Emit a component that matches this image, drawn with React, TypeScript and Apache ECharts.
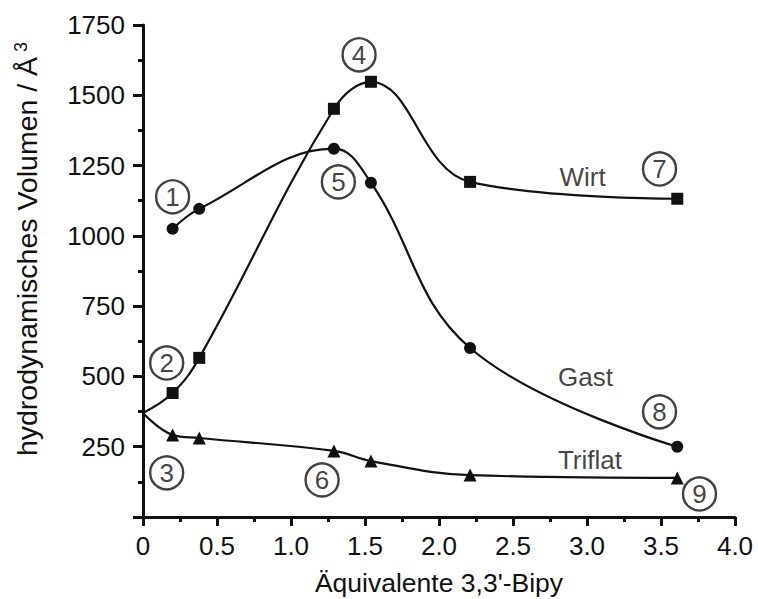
import React, { useEffect, useRef } from "react";
import * as echarts from "echarts";

// x values (Äquivalente 3,3'-Bipy) and series values (Å³)
const xWirt = [0, 0.2, 0.38, 1.29, 1.54, 2.21, 3.61];
const yWirt = [370, 441, 566, 1452, 1548, 1192, 1132];
const xGast = [0.2, 0.38, 1.29, 1.54, 2.21, 3.61];
const yGast = [1025, 1096, 1310, 1189, 601, 250];
const xTriflat = [0, 0.2, 0.38, 1.29, 1.54, 2.21, 3.61];
const yTriflat = [370, 292, 281, 235, 199, 149, 139];

// circled annotation numbers, anchored in data units
const annNums = ["1", "2", "3", "4", "5", "6", "7", "8", "9"];
const annX = [0.2, 0.16, 0.16, 1.46, 1.32, 1.21, 3.49, 3.49, 3.76];
const annY = [1139, 548, 157, 1644, 1192, 132, 1238, 374, 82];

// series name labels, anchored in data units
const seriesNames = ["Wirt", "Gast", "Triflat"];
const nameX = [2.97, 2.99, 3.02];
const nameY = [1210, 498, 203];

const FONT = "'Liberation Sans', Arial, sans-serif";

function pairs(xs: number[], ys: number[], skipFirstSymbol: boolean) {
  return xs.map((x, i) =>
    skipFirstSymbol && i === 0 ? { value: [x, ys[i]], symbol: "none" } : { value: [x, ys[i]] }
  );
}

export default function App() {
  const ref = useRef<HTMLDivElement>(null);
  useEffect(() => {
    if (!ref.current) return;
    const chart = echarts.init(ref.current, undefined, { renderer: "svg" });
    const lineBase = {
      type: "line",
      smooth: 0.4,
      lineStyle: { color: "#111", width: 2.2 },
      itemStyle: { color: "#111" },
      z: 3,
    };
    chart.setOption({
      animation: false,
      backgroundColor: "#fff",
      grid: { left: 143, right: 23, top: 25, bottom: 82, containLabel: false, outerBoundsMode: "none" },
      xAxis: {
        type: "value",
        min: 0,
        max: 4,
        interval: 0.5,
        name: "Äquivalente 3,3'-Bipy",
        nameLocation: "middle",
        nameGap: 52,
        nameMoveOverlap: false,
        nameTextStyle: { fontFamily: FONT, fontSize: 26.5, color: "#111" },
        axisLine: { show: true, lineStyle: { color: "#111", width: 3 } },
        axisTick: { show: true, length: 9, lineStyle: { color: "#111", width: 3 } },
        minorTick: { show: true, splitNumber: 2, length: 5, lineStyle: { color: "#111", width: 3 } },
        splitLine: { show: false },
        axisLabel: {
          fontFamily: FONT,
          fontSize: 26,
          color: "#111",
          margin: 16,
          formatter: (v: number) => (v === 0 ? "0" : v.toFixed(1)),
        },
      },
      yAxis: {
        type: "value",
        min: 0,
        max: 1750,
        interval: 250,
        name: "{a|hydrodynamisches Volumen / Å}{s|3}",
        nameLocation: "middle",
        nameGap: 101,
        nameMoveOverlap: false,
        nameTextStyle: {
          fontFamily: FONT,
          fontSize: 28.5,
          color: "#111",
          padding: [0, 0, 0, 44],
          rich: {
            a: { fontFamily: FONT, fontSize: 28.5, color: "#111" },
            s: { fontFamily: FONT, fontSize: 18, color: "#111", verticalAlign: "top", padding: [0, 0, 12, 5] },
          },
        },
        axisLine: { show: true, lineStyle: { color: "#111", width: 3 } },
        axisTick: { show: true, length: 10, lineStyle: { color: "#111", width: 3 } },
        minorTick: { show: true, splitNumber: 2, length: 5, lineStyle: { color: "#111", width: 3 } },
        splitLine: { show: false },
        axisLabel: {
          fontFamily: FONT,
          fontSize: 26,
          color: "#111",
          margin: 18,
          formatter: (v: number) => (v === 0 ? "" : String(v)),
        },
      },
      series: [
        { ...lineBase, name: "Wirt", symbol: "rect", symbolSize: 12, data: pairs(xWirt, yWirt, true) },
        { ...lineBase, name: "Gast", symbol: "circle", symbolSize: 12, data: pairs(xGast, yGast, false) },
        { ...lineBase, name: "Triflat", symbol: "triangle", symbolSize: 13, data: pairs(xTriflat, yTriflat, true) },
        {
          type: "scatter",
          name: "ann",
          symbol: "circle",
          symbolSize: 33,
          z: 5,
          itemStyle: { color: "#fff", borderColor: "#111", borderWidth: 2.4 },
          label: {
            show: true,
            position: "inside",
            fontFamily: FONT,
            fontSize: 26,
            color: "#111",
            formatter: (p: any) => p.name,
          },
          data: annNums.map((n, i) => ({ name: n, value: [annX[i], annY[i]] })),
        },
        {
          type: "scatter",
          name: "names",
          symbol: "circle",
          symbolSize: 1,
          z: 5,
          itemStyle: { color: "transparent" },
          label: {
            show: true,
            position: "inside",
            fontFamily: FONT,
            fontSize: 26,
            color: "#111",
            formatter: (p: any) => p.name,
          },
          data: seriesNames.map((n, i) => ({ name: n, value: [nameX[i], nameY[i]] })),
        },
      ],
    });
    return () => chart.dispose();
  }, []);
  return (
    <div
      ref={ref}
      style={{ position: "fixed", left: 0, top: 0, width: 758, height: 599, background: "#fff" }}
    />
  );
}
